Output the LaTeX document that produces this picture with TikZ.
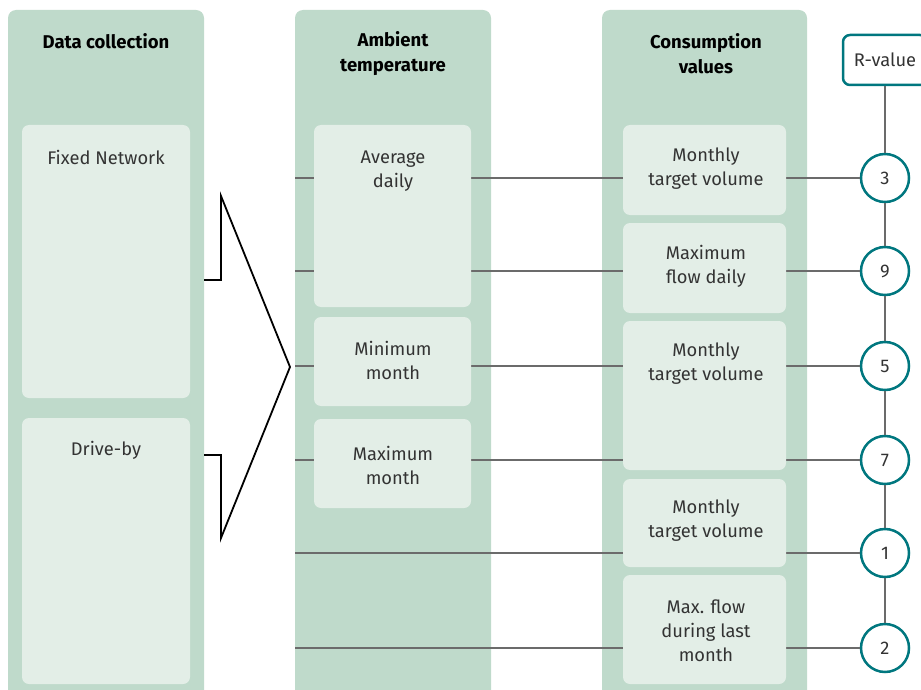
\documentclass[tikz,border=0pt]{standalone}
\usepackage{fontspec}
\setmainfont{Fira Sans}
\usetikzlibrary{positioning}
\definecolor{sage}{HTML}{BFDACB}
\definecolor{pale}{HTML}{E3EEE7}
\definecolor{wiregray}{HTML}{6B6B6B}
\definecolor{petrol}{HTML}{00777F}

\begin{document}
\begin{tikzpicture}[x=1pt, y=-1pt,
    column/.style = {fill=sage, rounded corners=8pt},
    cell/.style = {fill=pale, rounded corners=7pt, inner sep=0pt},
    txt/.style = {align=center, text=black!80, font=\fontsize{18.3}{24}\selectfont},
    head/.style = {align=center, text=black, font=\fontsize{18.5}{25}\selectfont\bfseries},
    rnode/.style = {draw=petrol, line width=2.5pt, fill=white, circle, minimum size=48pt, inner sep=0pt, txt},
    link/.style = {draw=wiregray, line width=2.6pt}]
    \useasboundingbox (0,0) rectangle (921,690);
    % Columns
    \fill[column] (8,700) -- (8,10) -- (204,10) -- (204,700) -- cycle;
    \fill[column] (295,700) -- (295,10) -- (491,10) -- (491,700) -- cycle;
    \fill[column] (602,700) -- (602,10) -- (807,10) -- (807,700) -- cycle;

    % R-values
    \node[rnode, draw=petrol, rectangle, rounded corners=7pt, minimum width=84pt, minimum height=50pt] (rval) at (885,60) {R-value};
    \foreach \y/\n in {178/3, 271/9, 366/5, 460/7, 553/1, 648/2}
      \node[rnode] (c\n) at (885,\y) {\n};
    \draw[link] (rval) -- (c3) -- (c9) -- (c5) -- (c7) -- (c1) -- (c2);

    % Edges
    \foreach \y/\n in {178/3, 271/9, 366/5, 460/7, 553/1, 648/2} {
      \coordinate (l\n) at (295,\y);
      \draw[link] (l\n) -- (c\n);
    }

    % Cells
    \node[cell, minimum width=168pt, minimum height=273pt] (fixed) at (106,261.5) {};
    \node[cell, minimum width=168pt, minimum height=266pt] (drive) at (106,551) {};

    \node[cell, minimum width=157pt, minimum height=182pt] (avg) at (392.5,216) {};
    \node[cell, minimum width=157pt, minimum height=89pt] (minm) at (392.5,361.5) {};
    \node[cell, minimum width=157pt, minimum height=89pt] (maxm) at (392.5,463.5) {};

    \node[cell, minimum width=163pt, minimum height=90pt] (cv1) at (704.5,170) {};
    \node[cell, minimum width=163pt, minimum height=90pt] (cv2) at (704.5,268) {};
    \node[cell, minimum width=163pt, minimum height=149pt] (cv3) at (704.5,395.5) {};
    \node[cell, minimum width=163pt, minimum height=88pt] (cv4) at (704.5,523) {};
    \node[cell, minimum width=163pt, minimum height=109pt] (cv5) at (704.5,629.5) {};

    % Texts
    \node[head] (h1) at (106,41) {Data collection};
    \node[head] (h2) at (393,53.5) {Ambient\\temperature};
    \node[head] (h3) at (706,53.5) {Consumption\\values};

    \node[txt] (t1) at (106,157) {Fixed Network};
    \node[txt] (t2) at (106,450) {Drive-by};
    \node[txt] (t3) at (393,171) {Average\\daily};
    \node[txt] (t4) at (393,360) {Minimum\\month};
    \node[txt] (t5) at (393,465) {Maximum\\month};
    \node[txt] (t6) at (706,169) {Monthly\\target volume};
    \node[txt] (t7) at (706,266) {Maximum\\flow daily};
    \node[txt] (t8) at (706,364) {Monthly\\target volume};
    \node[txt] (t9) at (706,521) {Monthly\\target volume};
    \node[txt] (t10) at (706,631) {Max. flow\\during last\\month};

    % Arrow
    \draw[line width=1.8pt, line join=miter] (204,280) -- (221,280) -- (221,196) -- (290,367)
      -- (221,538) -- (221,455) -- (204,455);
\end{tikzpicture}
\end{document}
